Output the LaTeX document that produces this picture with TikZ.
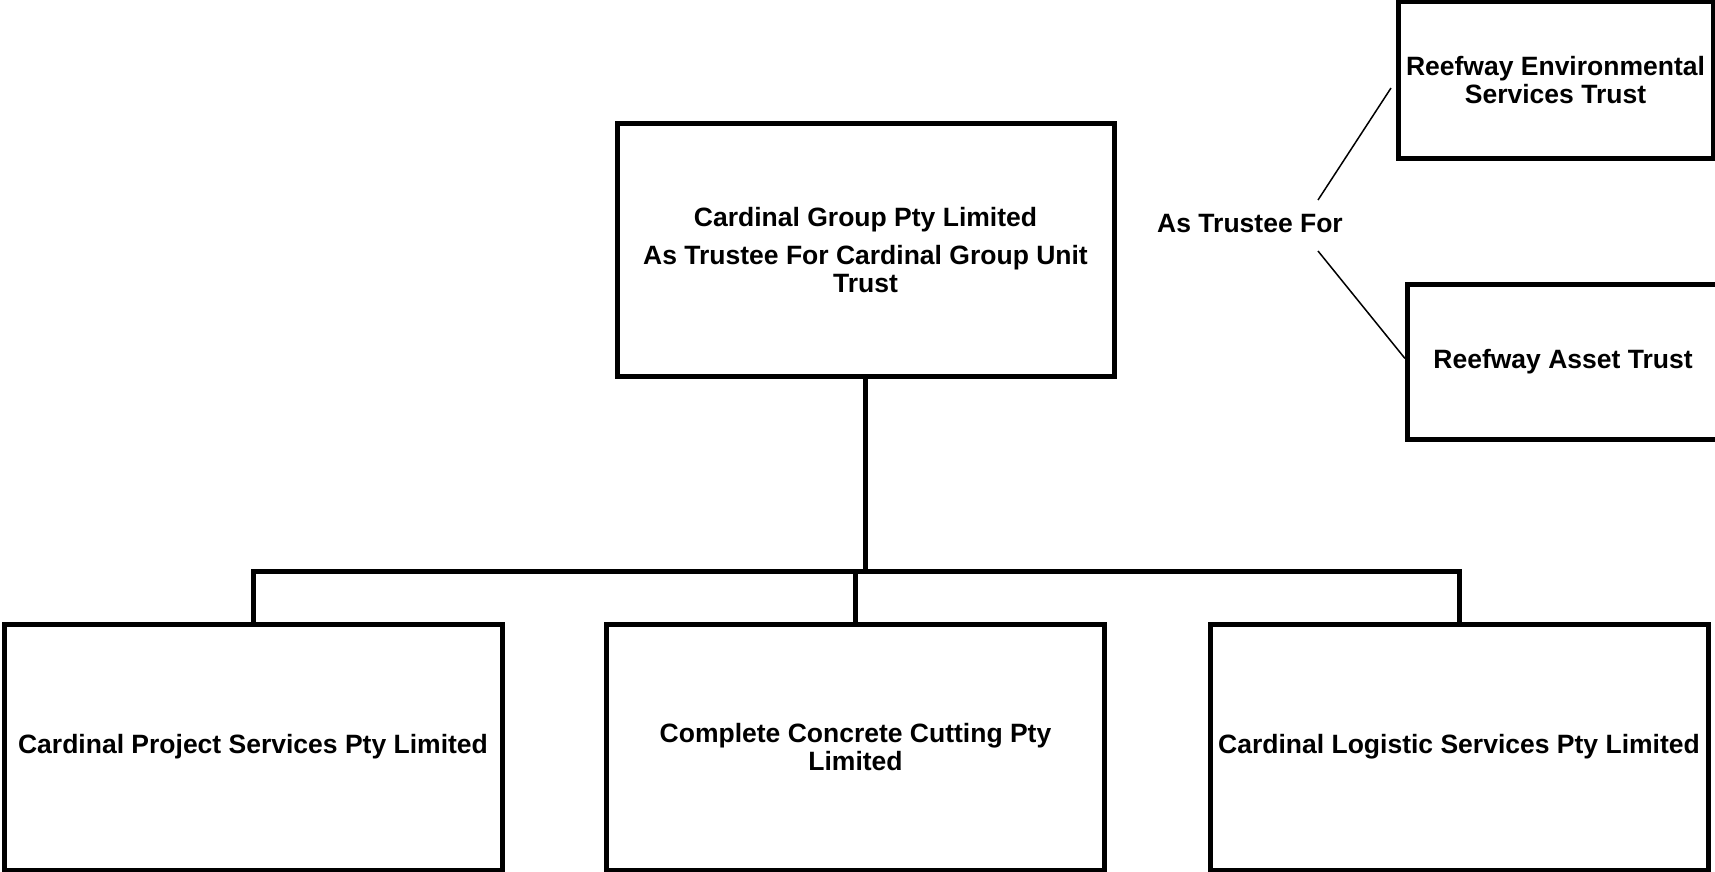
\documentclass[tikz,border=0pt]{standalone}
\usepackage{fontspec}
\setmainfont{Liberation Sans}
\newcommand\boxfont{\fontsize{26.5}{27.5}\selectfont\bfseries}
\begin{document}
\begin{tikzpicture}[x=1pt,y=-1pt,
  box/.style={draw=black, line width=5pt, inner sep=0pt, outer sep=0pt,
              align=center, font=\boxfont},
  toprow/.style={box, minimum width=498pt, minimum height=246pt},
  tree/.style={draw=black, line width=5pt},
  thin/.style={draw=black, line width=1.5pt}]
\useasboundingbox (0,0) rectangle (1715,872);
\clip (0,0) rectangle (1715,872);
\fill[white] (0,0) rectangle (1715,872);

% top box
\node[box, minimum width=497pt, minimum height=252pt] (cg) at (865.5,250)
  {Cardinal Group Pty Limited\\[11pt]As Trustee For Cardinal Group Unit\\Trust};

% trusts on the right
\node[box, minimum width=315pt, minimum height=156pt] (rest) at (1555.5,80)
  {Reefway Environmental\\Services Trust};
\node[box, minimum width=312pt, minimum height=155pt] (rat) at (1563,361.5)
  {Reefway Asset Trust};
\node[font=\boxfont, inner sep=0pt] (atf) at (1250,224) {As Trustee For};
\coordinate (atfup) at (1318,200);
\coordinate (atfdn) at (1318,251);
\draw[thin] (atfup) -- ([shift={(-7,8)}]rest.west);
\draw[thin] (atfdn) -- ([shift={(-2,-3)}]rat.west);

% bottom row
\node[toprow] (cps) at (253,747) {Cardinal Project Services Pty Limited};
\node[toprow] (ccc) at (855.5,747) {Complete Concrete Cutting Pty\\Limited};
\node[toprow] (cls) at (1459,747) {Cardinal Logistic Services Pty Limited};

% tree connectors
\coordinate (bus) at (865.5,571);
\draw[tree] (cg.south) -- (cg.south |- bus);
\draw[tree, line join=miter] (cps.north) -- (cps.north |- bus) -- (cls.north |- bus) -- (cls.north);
\draw[tree] (ccc.north) -- (ccc.north |- bus);
\end{tikzpicture}
\end{document}
